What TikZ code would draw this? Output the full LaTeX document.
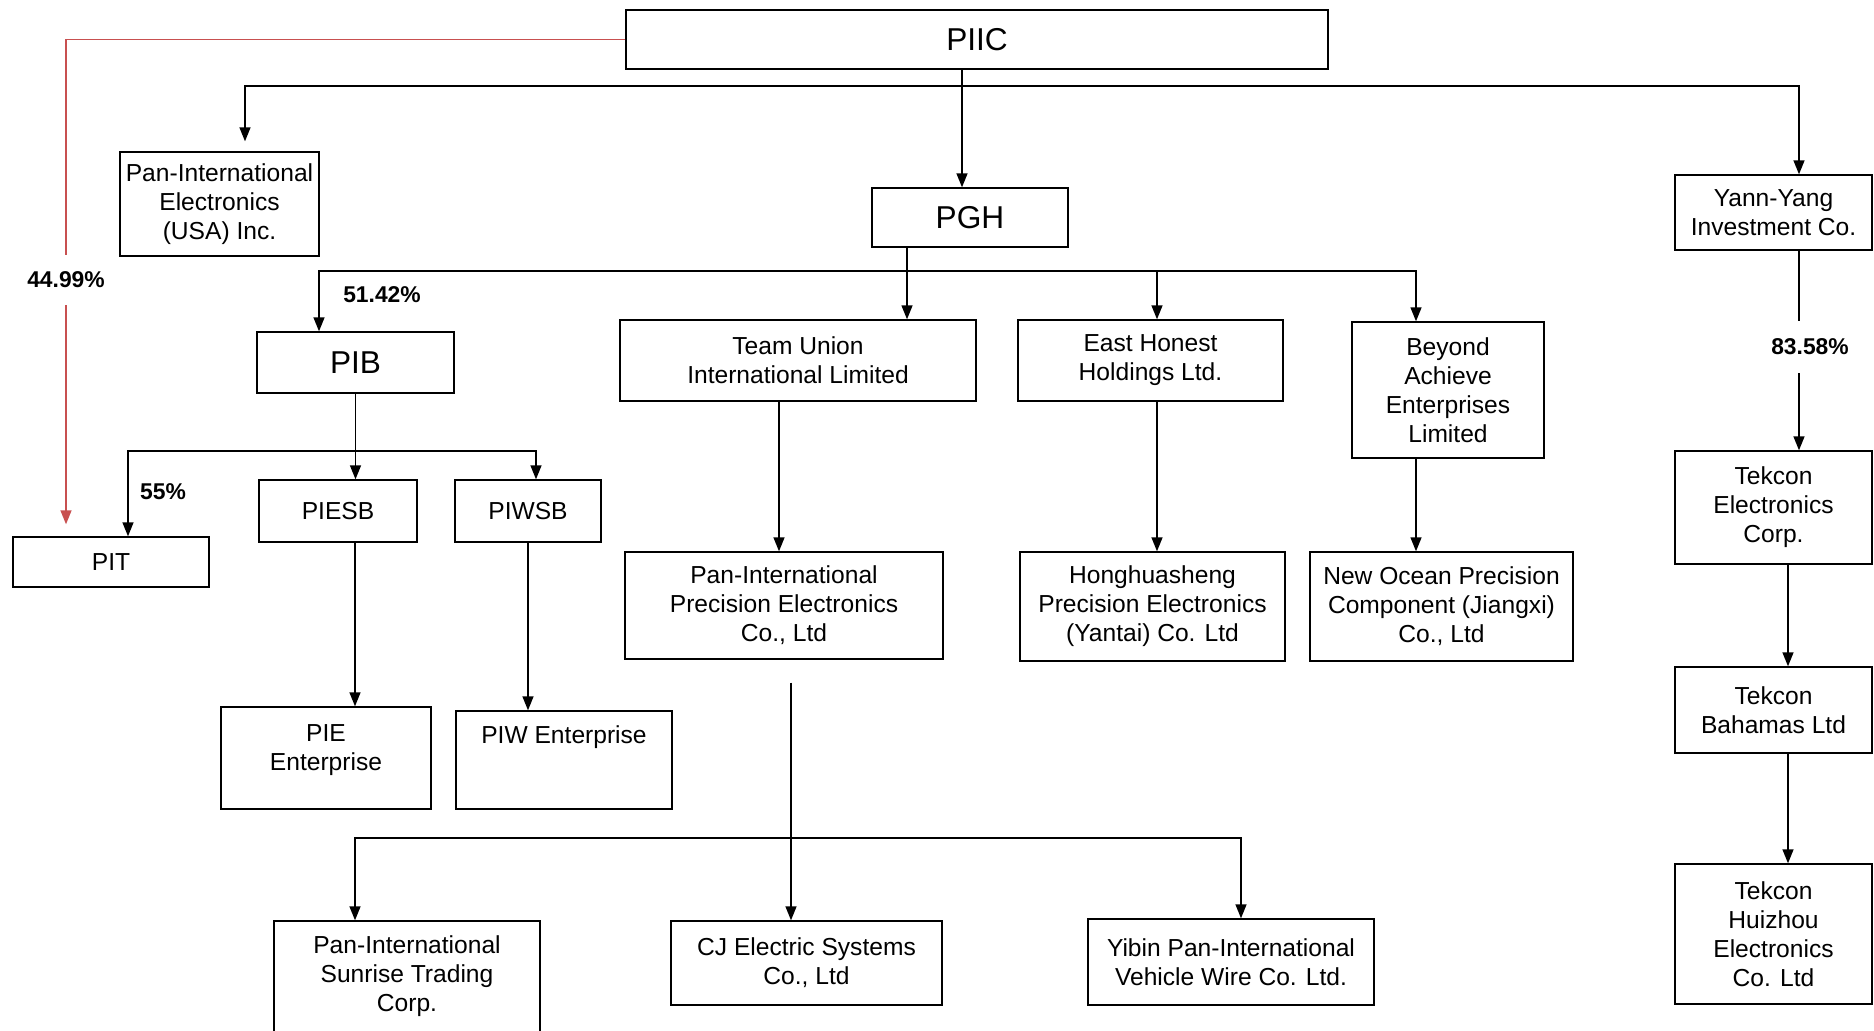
\documentclass[tikz,border=0pt]{standalone}
\usepackage{fontspec}
\setmainfont{Liberation Sans}
\definecolor{linkred}{RGB}{200,80,80}
\usetikzlibrary{arrows.meta, positioning, calc}

\tikzset{
	box/.style = {draw, line width = 0.8pt, align = center, inner sep = 0.1cm, font = \fontsize{14}{16.5}\selectfont},
	bigbox/.style = {box, font = \fontsize{18}{21}\selectfont},
	arr/.style = {-{Triangle[length = 0.28cm, width = 0.22cm]}, line width = 0.8pt},
	redarr/.style = {arr, color = linkred},
	pct/.style = {font = \fontsize{13}{15}\selectfont\bfseries, inner sep = 0.05cm, text = black},
}

\begin{document}
\begin{tikzpicture}[x = 0.02cm, y = -0.02cm]
	\useasboundingbox (0, 0) rectangle (1874, 1031);
	\clip (0, 0) rectangle (1874, 1031);
	\node[bigbox, minimum width = 14.04cm, minimum height = 1.18cm] at (977, 39.5) (piic) {PIIC};
	\node[box, minimum width = 3.98cm, minimum height = 2.08cm] at (219.5, 204) (usa) {Pan-International\\Electronics\\(USA) Inc.};
	\node[bigbox, minimum width = 3.92cm, minimum height = 1.18cm] at (970, 217.5) (pgh) {PGH};
	\node[box, minimum width = 3.94cm, minimum height = 1.5cm] at (1773.5, 212.5) (yann) {Yann-Yang\\Investment Co.};
	\node[bigbox, minimum width = 3.94cm, minimum height = 1.22cm] at (355.5, 362.5) (pib) {PIB};
	\node[box, minimum width = 7.12cm, minimum height = 1.62cm] at (798, 360.5) (teamunion) {Team Union\\International Limited};
	\node[box, minimum width = 5.3cm, minimum height = 1.62cm] at (1150.5, 360.5) (easthonest) {East Honest\\Holdings Ltd.};
	\node[box, minimum width = 3.84cm, minimum height = 2.72cm] at (1448, 390) (beyond) {Beyond\\Achieve\\Enterprises\\Limited};
	\node[box, minimum width = 3.92cm, minimum height = 1.0cm] at (111, 562) (pit) {PIT};
	\node[box, minimum width = 3.16cm, minimum height = 1.24cm] at (338, 511) (piesb) {PIESB};
	\node[box, minimum width = 2.92cm, minimum height = 1.24cm] at (528, 511) (piwsb) {PIWSB};
	\node[box, minimum width = 3.94cm, minimum height = 2.26cm] at (1773.5, 507.5) (tekcon) {Tekcon\\Electronics\\Corp.};
	\node[box, minimum width = 6.36cm, minimum height = 2.14cm] at (784, 605.5) (panprec) {Pan-International\\Precision Electronics\\Co., Ltd};
	\node[box, minimum width = 5.3cm, minimum height = 2.18cm] at (1152.5, 606.5) (hong) {Honghuasheng\\Precision Electronics\\(Yantai) Co. Ltd};
	\node[box, minimum width = 5.26cm, minimum height = 2.18cm] at (1441.5, 606.5) (newocean) {New Ocean Precision\\Component (Jiangxi)\\Co., Ltd};
	\node[box, minimum width = 3.94cm, minimum height = 1.72cm] at (1773.5, 710) (bahamas) {Tekcon\\Bahamas Ltd};
	\node[box, minimum width = 4.2cm, minimum height = 2.04cm, text depth = 0.4cm] at (326, 758) (pie) {PIE\\Enterprise};
	\node[box, minimum width = 4.32cm, minimum height = 1.96cm, text depth = 1.0cm] at (564, 760) (piw) {PIW Enterprise};
	\node[box, minimum width = 3.94cm, minimum height = 2.8cm] at (1773.5, 934) (huizhou) {Tekcon\\Huizhou\\Electronics\\Co. Ltd};
	\node[box, minimum width = 5.32cm, minimum height = 2.5cm, text depth = 0.38cm] at (407, 983.5) (sunrise) {Pan-International\\Sunrise Trading\\Corp.};
	\node[box, minimum width = 5.42cm, minimum height = 1.68cm] at (806.5, 963) (cj) {CJ Electric Systems\\Co., Ltd};
	\node[box, minimum width = 5.72cm, minimum height = 1.72cm] at (1231, 962) (yibin) {Yibin Pan-International\\Vehicle Wire Co. Ltd.};

	\draw[arr] ([xshift = -0.16cm]pgh.north |- piic.south) -- ([xshift = -0.16cm]pgh.north);
	\coordinate (topbus) at (977, 86);
	\draw[arr, shorten > = 0.2cm] (topbus) -| ([xshift = 0.51cm]usa.north);
	\draw[arr] (topbus) -| ([xshift = 0.51cm]yann.north);
	\draw[redarr, shorten > = 0.24cm] (piic.west) -| node[pct, pos = 0.742, fill = white, minimum height = 1.0cm] {44.99\%} ([xshift = -0.9cm]pit.north);

	\coordinate (pghbus) at (907, 271);
	\draw[arr] ([xshift = -1.26cm]pgh.south) -- ([xshift = -1.26cm]pgh.south |- teamunion.north);
	\draw[arr] (pghbus) -| ([xshift = -0.73cm]pib.north);
	\draw[arr] (pghbus) -| ([xshift = 0.13cm]easthonest.north);
	\draw[arr] (pghbus) -| ([xshift = -0.64cm]beyond.north);
	\node[pct] at (382, 295) (p5142) {51.42\%};

	\draw[arr] (pib.south) -- (pib.south |- piesb.north);
	\coordinate (pibbus) at (355.5, 451);
	\draw[arr] (pibbus) -| ([xshift = 0.34cm]pit.north);
	\draw[arr] (pibbus) -| ([xshift = 0.16cm]piwsb.north);
	\node[pct] at (163, 492) (p55) {55\%};
	\draw[arr] ([xshift = 0.34cm]piesb.south) -- ([xshift = 0.34cm]piesb.south |- pie.north);
	\draw[arr] (piwsb.south) -- (piwsb.south |- piw.north);

	\draw[arr] ([xshift = -0.38cm]teamunion.south) -- ([xshift = -0.38cm]teamunion.south |- panprec.north);
	\draw[arr] ([xshift = 0.13cm]easthonest.south) -- ([xshift = 0.13cm]easthonest.south |- hong.north);
	\draw[arr] ([xshift = -0.64cm]beyond.south) -- ([xshift = -0.64cm]beyond.south |- newocean.north);

	\draw[arr] ([xshift = 0.51cm]yann.south) -- node[pct, pos = 0.48, xshift = 0.22cm, fill = white, minimum height = 1.04cm] {83.58\%} ([xshift = 0.51cm]yann.south |- tekcon.north);
	\draw[arr] ([xshift = 0.29cm]tekcon.south) -- ([xshift = 0.29cm]tekcon.south |- bahamas.north);
	\draw[arr] ([xshift = 0.29cm]bahamas.south) -- ([xshift = 0.29cm]bahamas.south |- huizhou.north);

	\draw[arr, shorten < = 0.46cm] ([xshift = -0.31cm]cj.north |- panprec.south) -- ([xshift = -0.31cm]cj.north);
	\coordinate (panbus) at (791, 838);
	\draw[arr] (panbus) -| ([xshift = -1.04cm]sunrise.north);
	\draw[arr] (panbus) -| ([xshift = 0.2cm]yibin.north);
\end{tikzpicture}
\end{document}
